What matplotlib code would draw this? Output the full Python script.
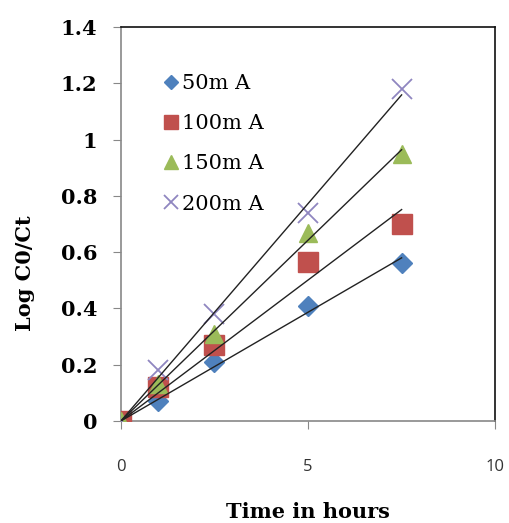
import numpy as np
import matplotlib
matplotlib.use("Agg")
import matplotlib.pyplot as plt

# Degradation kinetics at four applied currents
time_h = [0, 1, 2.5, 5, 7.5]
series_names = ["50mA", "100mA", "150mA", "200mA"]
log_50 = [0, 0.07, 0.21, 0.41, 0.56]
log_100 = [0, 0.12, 0.27, 0.565, 0.70]
log_150 = [0, 0.13, 0.31, 0.67, 0.95]
log_200 = [0, 0.18, 0.38, 0.74, 1.18]
legend_labels = ["50m A", "100m A", "150m A", "200m A"]

y_ticks = [0, 0.2, 0.4, 0.6, 0.8, 1, 1.2, 1.4]
y_tick_labels = ["0", "0.2", "0.4", "0.6", "0.8", "1", "1.2", "1.4"]
x_ticks = [0, 5, 10]

styles = [
    dict(marker="D", color="#4F81BD", ms=10),
    dict(marker="s", color="#C0504D", ms=14),
    dict(marker="^", color="#9BBB59", ms=13),
    dict(marker="x", color="#8F86C0", ms=14, mew=1.3),
]

fig = plt.figure(figsize=(5.10, 5.23), dpi=100)
ax = fig.add_axes([0.237, 0.195, 0.734, 0.753])

x = np.array(time_h)
for vals, lab, st in zip([log_50, log_100, log_150, log_200], legend_labels, styles):
    y = np.array(vals)
    ax.plot(x, y, linestyle="none", label=lab, zorder=3, **st)
# linear trend lines forced through the origin
for vals in [log_50, log_100, log_150, log_200]:
    y = np.array(vals)
    slope = np.sum(x * y) / np.sum(x * x)
    ax.plot([0, x[-1]], [0, slope * x[-1]], color="#222222", lw=1.0, zorder=4)

serif = "DejaVu Serif"
ax.set_xlim(0, 10)
ax.set_ylim(0, 1.4)
ax.set_yticks(y_ticks)
ax.set_yticklabels(y_tick_labels, fontfamily=serif, fontweight="bold", fontsize=15)
ax.set_xticks(x_ticks)
ax.set_xticklabels([str(t) for t in x_ticks], fontfamily="Open Sans", fontsize=12, color="#333333")
ax.tick_params(axis="y", direction="out", length=6, color="#888888", pad=11)
ax.tick_params(axis="x", direction="out", length=6, color="#888888", pad=21)

for side in ["left", "bottom"]:
    ax.spines[side].set_color("#888888")
for side in ["top", "right"]:
    ax.spines[side].set_color("#111111")
for s in ax.spines.values():
    s.set_linewidth(1.2)

ax.set_xlabel("Time in hours", fontfamily=serif, fontweight="bold", fontsize=15)
ax.xaxis.set_label_coords(0.5, -0.205)
ax.set_ylabel("Log C0/Ct", fontfamily=serif, fontweight="bold", fontsize=15)
ax.yaxis.set_label_coords(-0.23, 0.376)

leg = ax.legend(loc="upper left", bbox_to_anchor=(0.089, 0.908), frameon=False,
                prop={"family": serif, "size": 15},
                handlelength=0.6, handletextpad=0.25, labelspacing=1.02, borderpad=0,
                markerscale=0.75)

fig.savefig("out.png", dpi=100)
